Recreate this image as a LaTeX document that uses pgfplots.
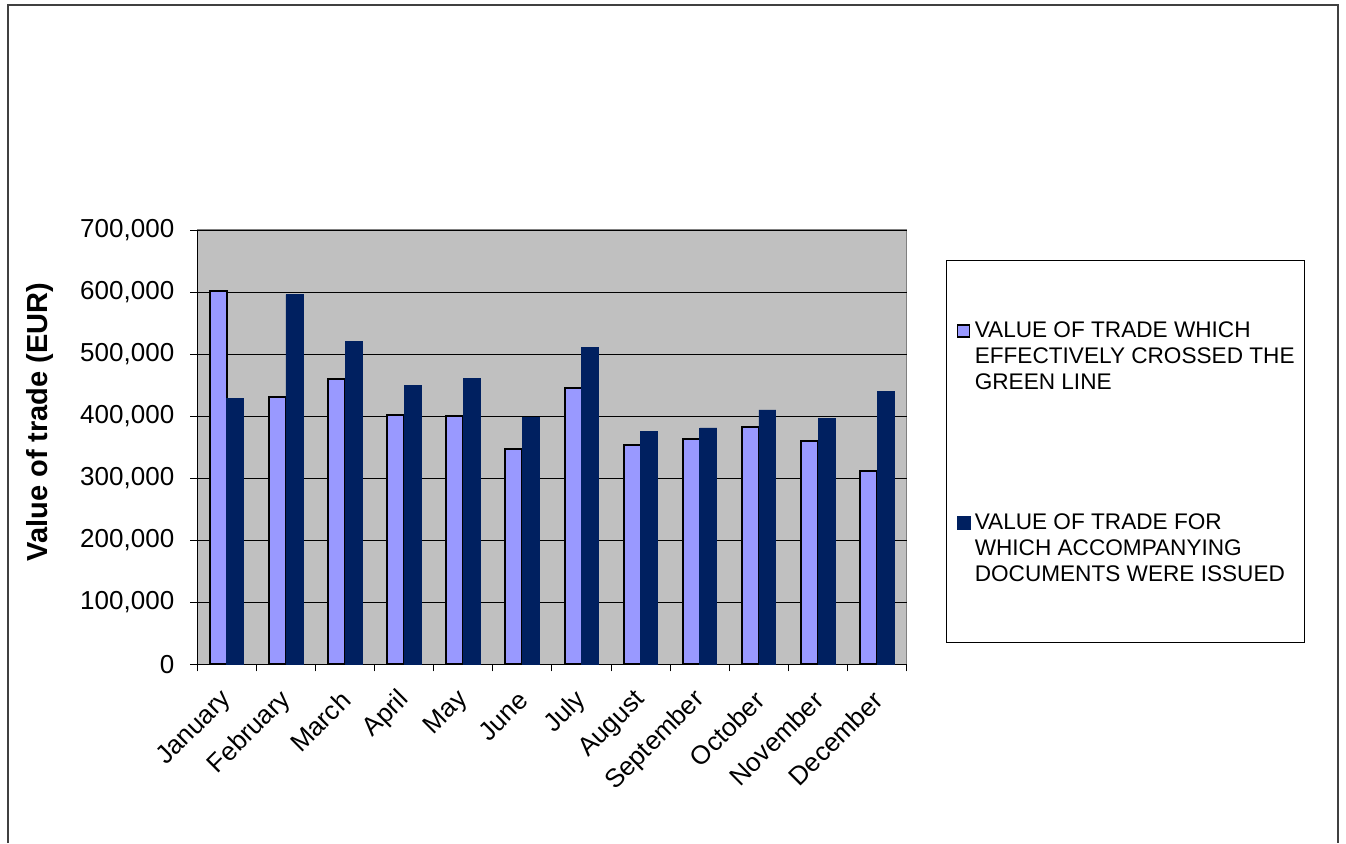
\documentclass[border=0pt]{standalone}
\usepackage{pgfplots}
\pgfplotsset{compat=1.18}
\usepackage{fontspec}
\setmainfont{Liberation Sans}
\definecolor{lightbar}{HTML}{9999FF}
\definecolor{darkbar}{HTML}{002060}
\definecolor{plotbg}{HTML}{C0C0C0}

\begin{document}
\begin{tikzpicture}
% page size and outer chart frame (1px = 0.5pt)
\path[use as bounding box] (0,0) rectangle (673pt,-421.5pt);
\draw[black!75, line width=0.6pt] (4pt,-421.5pt) -- (4pt,-2.5pt) -- (669pt,-2.5pt) -- (669pt,-421.5pt);
\begin{axis}[
  at={(98.65pt,-332.15pt)}, anchor=south west,
  scale only axis, width=354.7pt, height=217.15pt,
  ybar, bar width=0.287,
  ymin=0, ymax=700000, ytick={0,100000,...,700000},
  scaled y ticks=false,
  xmin=-0.5, xmax=11.5,
  xtick={0,...,11},
  xticklabels={January,February,March,April,May,June,July,August,September,October,November,December},
  minor xtick={-0.5,0.5,...,11.5},
  major x tick style={draw=none},
  tick align=outside, major tick length=3.5pt, minor tick length=3.5pt,
  tick style={black, line width=0.5pt},
  ymajorgrids, grid style={black, line width=0.5pt},
  axis background/.style={fill=plotbg, draw=black!50, line width=0.6pt},
  axis x line*=bottom, axis y line*=left,
  axis line style={black, line width=0.6pt},
  yticklabel style={font=\fontsize{13}{15}\selectfont, xshift=-4.5pt},
  xticklabel style={font=\fontsize{13}{15}\selectfont, rotate=45, anchor=east,
    xshift=-5pt, yshift=-9pt},
  /pgf/number format/.cd, fixed, 1000 sep={,}, assume math mode=true, /pgfplots/.cd,
  ylabel={Value of trade (EUR)},
  ylabel style={at={(axis description cs:-0.2217,0.558)}, anchor=center,
    font=\fontsize{14.5}{17}\selectfont\bfseries},
  legend style={at={(1.0554,0.931)}, anchor=north west, draw=black, fill=white,
    line width=0.5pt, inner xsep=5pt, inner ysep=30.4pt, row sep=62.4pt,
    column sep=2pt, nodes={inner sep=0pt, text depth=},
    cells={anchor=base west}, font=\fontsize{11.3}{13}\selectfont},
]
\addplot[fill=lightbar, draw=black, line width=1pt, bar shift=-0.1435,
  legend image code/.code={\draw[fill=lightbar, draw=black, line width=0.9pt] (0pt,0pt) rectangle (6pt,6pt);}]
  coordinates {(0,602000) (1,431000) (2,460000) (3,402000) (4,400000) (5,347000)
               (6,445000) (7,354000) (8,363000) (9,383000) (10,360000) (11,311000)};
\addlegendentry{\parbox[t]{160pt}{VALUE OF TRADE WHICH\\EFFECTIVELY CROSSED THE\\GREEN LINE}}
\addplot[fill=darkbar, draw=darkbar, line width=0.4pt, bar shift=0.1435,
  legend image code/.code={\fill[darkbar] (0pt,0pt) rectangle (6.5pt,6.5pt);}]
  coordinates {(0,428000) (1,596000) (2,520000) (3,450000) (4,461000) (5,398000)
               (6,511000) (7,376000) (8,381000) (9,410000) (10,397000) (11,440000)};
\addlegendentry{\parbox[t]{160pt}{VALUE OF TRADE FOR\\WHICH ACCOMPANYING\\DOCUMENTS WERE ISSUED}}
\end{axis}
\end{tikzpicture}
\end{document}
